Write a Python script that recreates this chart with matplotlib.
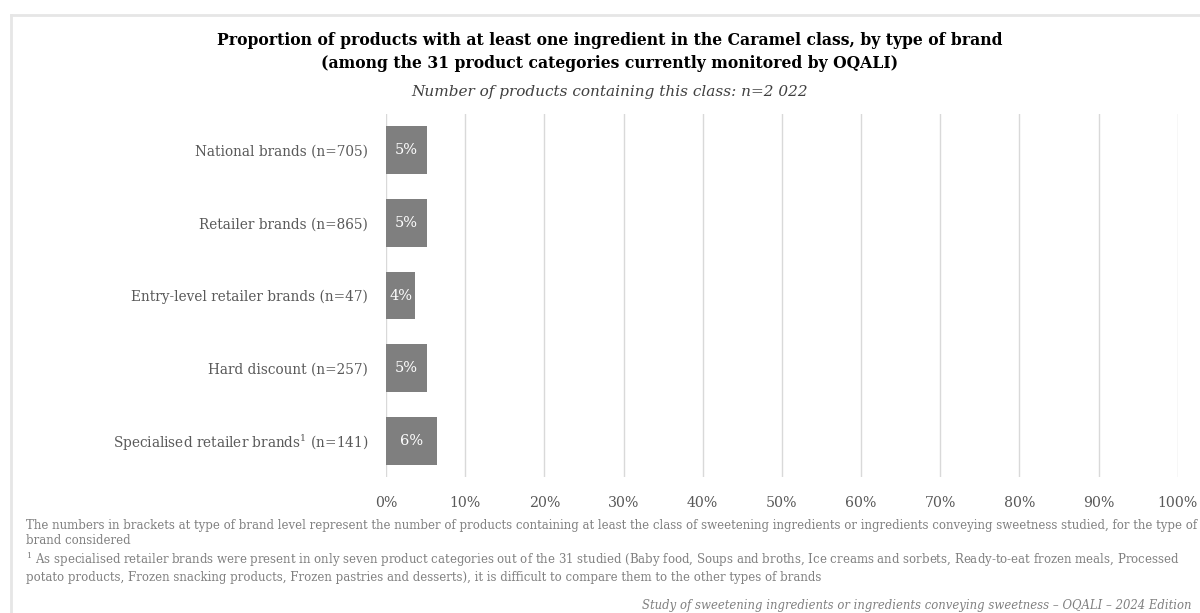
import matplotlib
matplotlib.use("Agg")
import matplotlib.pyplot as plt
from matplotlib.lines import Line2D

categories = [
    "National brands (n=705)",
    "Retailer brands (n=865)",
    "Entry-level retailer brands (n=47)",
    "Hard discount (n=257)",
    "Specialised retailer brands$^{1}$ (n=141)",
]
values = [5.2, 5.2, 3.7, 5.2, 6.4]
value_labels = ["5%", "5%", "4%", "5%", "6%"]
xticks = [0, 10, 20, 30, 40, 50, 60, 70, 80, 90, 100]
xticklabels = [f"{t}%" for t in xticks]

title = ("Proportion of products with at least one ingredient in the Caramel class, by type of brand\n"
         "(among the 31 product categories currently monitored by OQALI)")
subtitle = "Number of products containing this class: n=2 022"
foot1 = ("The numbers in brackets at type of brand level represent the number of products containing at least the class of sweetening ingredients or ingredients conveying sweetness studied, for the type of\n"
         "brand considered")
foot2 = ("$^{1}$ As specialised retailer brands were present in only seven product categories out of the 31 studied (Baby food, Soups and broths, Ice creams and sorbets, Ready-to-eat frozen meals, Processed\n"
         "potato products, Frozen snacking products, Frozen pastries and desserts), it is difficult to compare them to the other types of brands")
source = "Study of sweetening ingredients or ingredients conveying sweetness \u2013 OQALI \u2013 2024 Edition"

plt.rcParams['font.family'] = ['DejaVu Serif']
plt.rcParams['mathtext.fontset'] = 'dejavuserif'

W, H = 1200, 613
fig = plt.figure(figsize=(12, 6.13), dpi=100)
ax = fig.add_axes([386/W, 1-477/H, (1177.7-386)/W, (477-114)/H])

y = list(range(len(categories)))
ax.barh(y, values, height=0.66, color="#7f7f7f", zorder=3)
for yi, v, lab in zip(y, values, value_labels):
    ax.text(v/2, yi, lab, ha="center", va="center", color="white", fontsize=10.5, zorder=4)

ax.set_xlim(0, 100)
ax.set_ylim(len(categories)-0.5, -0.5)
ax.set_yticks(y)
ax.set_yticklabels(categories, fontsize=9.8, color="#595959")
ax.set_xticks(xticks)
ax.set_xticklabels(xticklabels, fontsize=10.2, color="#595959")
ax.tick_params(axis="both", length=0)
ax.tick_params(axis="y", pad=13)
ax.tick_params(axis="x", pad=14)
ax.grid(axis="x", color="#d9d9d9", linewidth=1, zorder=0)
for s in ax.spines.values():
    s.set_visible(False)

fig.text(0.508, 1-52/H, title, ha="center", va="center", fontsize=11.25, fontweight="bold",
         color="black", linespacing=1.48)
fig.text(0.508, 1-92/H, subtitle, ha="center", va="center", fontsize=11, style="italic", color="#404040")

fig.text(26/W, 1-533/H, foot1, ha="left", va="center", fontsize=8.43, color="#808080", linespacing=1.25)
fig.text(26/W, 1-567/H, foot2, ha="left", va="center", fontsize=8.43, color="#808080", linespacing=1.25)
fig.text(1192/W, 1-606/H, source, ha="right", va="center", fontsize=8.4, style="italic", color="#808080")

fig.add_artist(Line2D([11/W, 1.0], [1-15/H, 1-15/H], color="#e6e6e6", linewidth=2, transform=fig.transFigure))
fig.add_artist(Line2D([11/W, 11/W], [1-15/H, 0.0], color="#e6e6e6", linewidth=2, transform=fig.transFigure))

fig.savefig("out.png", dpi=100, facecolor="white")
